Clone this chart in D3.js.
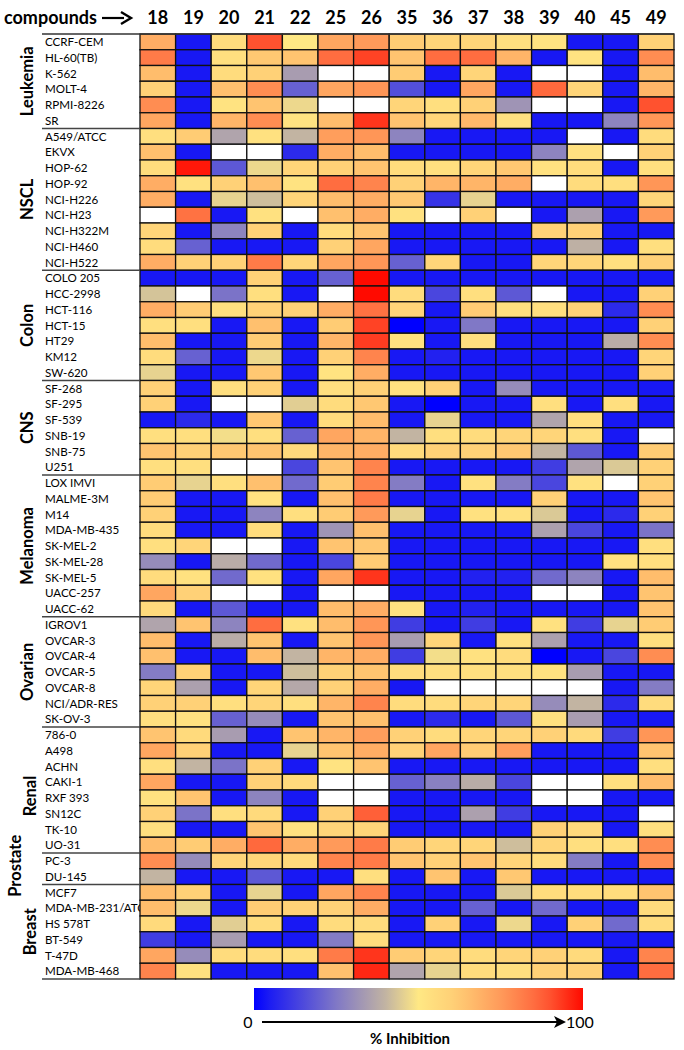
<!DOCTYPE html>
<html><head><meta charset="utf-8">
<script src="https://cdn.jsdelivr.net/npm/d3@7"></script>
<style>body{margin:0;background:#fff}svg{display:block}</style>
</head><body><svg id="c" width="684" height="1050"></svg>
<script>
const compounds = ["18","19","20","21","22","25","26","35","36","37","38","39","40","45","49"];
const groupNames = ["Leukemia","NSCL","Colon","CNS","Melanoma","Ovarian","Renal","Prostate","Breast"];
const groupLines = [
 ["CCRF-CEM","HL-60(TB)","K-562","MOLT-4","RPMI-8226","SR"],
 ["A549/ATCC","EKVX","HOP-62","HOP-92","NCI-H226","NCI-H23","NCI-H322M","NCI-H460","NCI-H522"],
 ["COLO 205","HCC-2998","HCT-116","HCT-15","HT29","KM12","SW-620"],
 ["SF-268","SF-295","SF-539","SNB-19","SNB-75","U251"],
 ["LOX IMVI","MALME-3M","M14","MDA-MB-435","SK-MEL-2","SK-MEL-28","SK-MEL-5","UACC-257","UACC-62"],
 ["IGROV1","OVCAR-3","OVCAR-4","OVCAR-5","OVCAR-8","NCI/ADR-RES","SK-OV-3"],
 ["786-0","A498","ACHN","CAKI-1","RXF 393","SN12C","TK-10","UO-31"],
 ["PC-3","DU-145"],
 ["MCF7","MDA-MB-231/ATCC","HS 578T","BT-549","T-47D","MDA-MB-468"]
];
// % inhibition (null = no data, drawn white)
const leukemiaVals = [
 [70,4,55,90,50,72,75,62,58,58,54,52,4,4,60],
 [82,4,54,63,64,85,92,64,85,85,68,4,52,4,78],
 [66,4,55,60,34,null,null,62,4,58,4,null,null,4,66],
 [60,4,65,78,20,72,76,16,4,72,4,86,58,4,68],
 [78,4,52,64,47,null,null,58,54,60,32,null,null,4,90],
 [72,4,68,78,52,66,94,64,58,67,53,4,4,28,76]];
const nsclVals = [
 [54,62,36,53,40,74,76,28,4,4,4,4,null,4,55],
 [65,4,null,null,8,70,66,4,4,4,4,28,53,null,60],
 [55,98,18,47,58,60,64,55,54,58,63,53,55,4,54],
 [70,53,60,65,52,85,80,60,68,68,70,null,55,54,76],
 [70,4,46,42,58,66,70,63,10,46,4,4,4,4,58],
 [null,84,4,53,null,65,70,53,null,60,null,4,35,4,75],
 [58,4,28,60,4,55,64,4,4,4,4,60,60,4,4],
 [55,20,4,4,4,60,72,4,4,4,4,4,39,4,54],
 [70,60,60,82,58,72,76,20,58,4,4,58,58,54,60]];
const colonVals = [
 [4,4,4,60,4,20,100,4,4,4,4,4,4,4,4],
 [43,null,24,54,4,null,100,55,14,54,18,null,4,4,60],
 [70,62,54,60,60,70,84,58,4,62,54,54,60,8,78],
 [54,54,4,65,4,62,92,0,4,25,4,4,4,4,60],
 [66,4,4,62,4,68,93,53,4,54,4,4,4,38,78],
 [55,20,4,47,4,60,80,4,6,4,4,4,4,4,58],
 [46,4,4,63,4,52,70,4,4,4,4,4,4,4,60]];
const cnsVals = [
 [60,4,54,60,4,54,60,53,60,4,30,4,4,4,4],
 [60,4,null,null,45,55,63,4,0,4,4,54,4,54,4],
 [4,8,4,63,4,55,66,4,46,4,4,36,54,4,4],
 [54,54,48,54,20,72,68,40,54,55,58,58,54,4,null],
 [64,60,63,64,56,68,70,56,60,60,63,40,18,4,62],
 [54,54,null,null,14,64,80,4,4,4,4,12,36,44,60]];
const melanomaVals = [
 [62,46,54,65,22,62,80,26,4,53,26,14,53,null,60],
 [62,4,4,53,4,65,82,4,4,4,4,60,4,4,64],
 [60,4,4,28,54,62,75,46,4,53,53,44,4,8,60],
 [55,4,4,55,4,32,65,4,4,4,4,35,14,4,24],
 [54,58,null,null,4,64,63,4,4,4,4,4,4,4,54],
 [30,4,38,22,4,14,62,4,4,4,4,4,4,53,54],
 [55,53,22,53,4,72,94,4,4,6,6,22,28,4,66],
 [72,60,null,null,4,null,null,4,4,4,4,null,null,4,64],
 [56,4,18,4,4,66,70,53,4,6,4,4,4,4,64]];
const ovarianVals = [
 [36,64,28,85,53,66,76,12,4,12,4,53,12,46,62],
 [66,4,38,64,4,64,76,34,58,4,54,35,4,4,54],
 [65,4,4,66,40,68,70,12,48,53,55,0,4,14,78],
 [26,60,4,4,42,60,64,55,54,54,54,53,34,4,4],
 [58,35,4,58,37,60,70,4,null,null,null,null,null,4,26],
 [60,60,54,58,54,68,80,55,55,58,58,30,40,8,55],
 [54,53,20,30,4,64,65,4,8,4,18,53,34,4,4]];
const renalVals = [
 [64,56,34,4,64,68,74,60,55,58,58,60,56,12,76],
 [72,60,4,4,46,64,70,60,72,62,74,4,4,4,64],
 [54,40,24,60,4,52,64,4,4,4,4,4,4,4,54],
 [72,4,4,60,56,null,null,20,27,38,14,null,null,54,66],
 [53,64,4,28,4,null,null,4,4,4,4,null,null,4,4],
 [60,24,54,56,4,60,88,4,4,35,12,4,4,4,null],
 [54,4,4,64,53,58,58,4,4,4,4,60,56,4,54],
 [66,62,70,86,70,75,82,62,58,58,42,58,54,54,78]];
const prostateVals = [
 [78,30,58,58,56,80,82,64,60,64,58,55,26,4,78],
 [40,4,4,18,4,4,54,4,64,4,63,4,4,4,4]];
const breastVals = [
 [66,60,4,46,4,72,80,4,4,4,44,55,55,55,64],
 [66,47,4,62,60,60,70,4,4,20,4,22,4,4,55],
 [56,4,45,55,4,55,55,4,60,4,47,4,60,22,55],
 [12,4,34,4,4,26,55,4,4,4,4,4,4,4,4],
 [72,30,55,55,54,82,94,62,58,55,58,60,56,4,80],
 [80,53,4,4,4,65,96,36,46,55,54,60,60,4,85]];
const groupVals = [leukemiaVals,nsclVals,colonVals,cnsVals,melanomaVals,ovarianVals,renalVals,prostateVals,breastVals];
const colorStops = [0,4,25,40,50,62,75,88,100];
const colorRange = ["#0000ff","#1818f4","#8078c6","#c2b4a2","#ffe884","#ffcc74","#ff9a5a","#ff6038","#ff0a00"];

const svg = d3.select("#c");
const color = d3.scaleLinear().domain(colorStops).range(colorRange).interpolate(d3.interpolateRgb);

const lines = groupLines.flat();
const cells = [];
groupVals.forEach((g,gi)=>g.forEach((row,ri)=>row.forEach((v,ci)=>cells.push({line:groupLines[gi][ri],comp:compounds[ci],v}))));

const L=140, R=674, T=34, B=979;
const x = d3.scaleBand().domain(compounds).range([L,R]);
const y = d3.scaleBand().domain(lines).range([T,B]);
const FONT = "Lato, 'Open Sans', sans-serif";

// header
svg.append("text").attr("x",4).attr("y",24).attr("font-family",FONT).attr("font-weight","bold").attr("font-size",18).text("compounds");
svg.append("line").attr("x1",102).attr("x2",124).attr("y1",18).attr("y2",18).attr("stroke","#000").attr("stroke-width",2.2);
svg.append("path").attr("d","M121,12 L131,18 L121,24").attr("fill","none").attr("stroke","#000").attr("stroke-width",2.4);
svg.append("g").selectAll("text").data(compounds).join("text")
  .attr("x",d=>x(d)+x.bandwidth()/2).attr("y",24).attr("text-anchor","middle")
  .attr("font-family",FONT).attr("font-weight","bold").attr("font-size",18).text(d=>d);

// row labels
svg.append("g").selectAll("text").data(lines).join("text")
  .attr("x",45).attr("y",d=>y(d)+y.bandwidth()/2).attr("dy","0.36em")
  .attr("font-family",FONT).attr("font-size",11.6).attr("fill","#000").text(d=>d);

// cells
svg.append("g").selectAll("rect").data(cells).join("rect")
  .attr("x",d=>x(d.comp)).attr("y",d=>y(d.line)).attr("width",x.bandwidth()).attr("height",y.bandwidth())
  .attr("fill",d=>d.v==null?"#fff":color(d.v)).attr("stroke","#111").attr("stroke-width",1.3);

// group separators and labels
const labelX = [33,33,33,33,33,33,36,21,36];
const labelDy = [0,0,0,0,0,0,6,-3,0];
svg.append("line").attr("x1",42).attr("x2",R).attr("y1",T).attr("y2",T).attr("stroke","#333").attr("stroke-width",1.5);
groupLines.forEach((g,gi)=>{
  const y0 = y(g[0]), y1 = y(g[g.length-1])+y.bandwidth();
  svg.append("line").attr("x1",42).attr("x2",L).attr("y1",y1).attr("y2",y1).attr("stroke","#444").attr("stroke-width",1.5);
  const cy = (y0+y1)/2 + labelDy[gi];
  svg.append("text").attr("transform",`translate(${labelX[gi]},${cy}) rotate(-90)`).attr("text-anchor","middle")
    .attr("font-family",FONT).attr("font-weight","bold").attr("font-size",16.5).text(groupNames[gi]);
});

// color bar
const defs = svg.append("defs");
const grad = defs.append("linearGradient").attr("id","cb");
d3.range(0,101,5).forEach(v=>grad.append("stop").attr("offset",v+"%").attr("stop-color",color(v)));
const cbx = d3.scaleLinear().domain([0,100]).range([254,583]);
svg.append("rect").attr("x",cbx(0)).attr("y",988).attr("width",cbx(100)-cbx(0)).attr("height",22).attr("fill","url(#cb)");
svg.append("text").attr("x",248).attr("y",1028).attr("text-anchor","middle").attr("font-family",FONT).attr("font-size",16).text("0");
svg.append("line").attr("x1",262).attr("x2",560).attr("y1",1022).attr("y2",1022).attr("stroke","#000").attr("stroke-width",2);
svg.append("path").attr("d","M554,1016 L566,1022 L554,1028 L557,1022 Z").attr("fill","#000");
svg.append("text").attr("x",566).attr("y",1028).attr("font-family",FONT).attr("font-size",16).text("100");
svg.append("text").attr("x",410).attr("y",1044).attr("text-anchor","middle").attr("font-family",FONT).attr("font-weight","bold").attr("font-size",15).text("% Inhibition");
</script></body></html>
